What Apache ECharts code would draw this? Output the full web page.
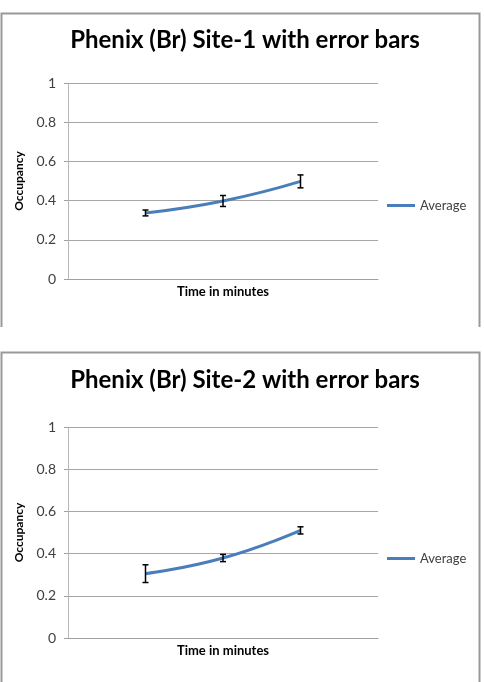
<!DOCTYPE html>
<html>
<head>
<meta charset="utf-8">
<script src="https://cdn.jsdelivr.net/npm/echarts@6/dist/echarts.min.js"></script>
<style>
  html, body { margin: 0; padding: 0; background: #fff; }
  #chart { width: 484px; height: 682px; }
</style>
</head>
<body>
<div id="chart"></div>
<script>
// slots on the x axis: the two outer ones stay empty, like the original sheet
var categories = ['', '1', '2', '3', ''];
var yTicks = [0, 0.2, 0.4, 0.6, 0.8, 1];

var titles = ['Phenix (Br) Site-1 with error bars', 'Phenix (Br) Site-2 with error bars'];

// site 1
var avg1 = ['-', 0.337, 0.398, 0.498, '-'];
var err1 = ['-', 0.015, 0.028, 0.033, '-'];
// site 2
var avg2 = ['-', 0.305, 0.379, 0.510, '-'];
var err2 = ['-', 0.042, 0.017, 0.017, '-'];

var font = 'Lato, "Open Sans", sans-serif';
var lineColor = '#4a7ebb';

function errData(avg, err) {
    var out = [];
    for (var i = 0; i < avg.length; i++) {
        if (avg[i] === '-') continue;
        out.push([i, avg[i] - err[i], avg[i] + err[i]]);
    }
    return out;
}

function renderErr(params, api) {
    var x = api.value(0);
    var lo = api.coord([x, api.value(1)]);
    var hi = api.coord([x, api.value(2)]);
    var cap = 3;
    var st = { stroke: '#000', lineWidth: 1.5 };
    return {
        type: 'group',
        children: [
            { type: 'line', shape: { x1: lo[0], y1: lo[1], x2: hi[0], y2: hi[1] }, style: st },
            { type: 'line', shape: { x1: lo[0] - cap, y1: lo[1], x2: lo[0] + cap, y2: lo[1] }, style: st },
            { type: 'line', shape: { x1: hi[0] - cap, y1: hi[1], x2: hi[0] + cap, y2: hi[1] }, style: st }
        ]
    };
}

// grid positions for the two stacked panels
var grids = [
    { left: 68, top: 83, width: 310, height: 196 },
    { left: 68, top: 427, width: 310, height: 211 }
];

function xAxis(idx) {
    return {
        type: 'category',
        gridIndex: idx,
        data: categories,
        boundaryGap: false,
        name: 'Time in minutes',
        nameLocation: 'middle',
        nameGap: 6,
        nameTextStyle: { fontFamily: font, fontWeight: 'bold', fontSize: 13, color: '#000', verticalAlign: 'top' },
        axisLine: { lineStyle: { color: '#a0a0a0', width: 1 } },
        axisTick: { show: false },
        axisLabel: { show: false },
        splitLine: { show: false }
    };
}

function yAxis(idx) {
    return {
        type: 'value',
        gridIndex: idx,
        min: yTicks[0],
        max: yTicks[yTicks.length - 1],
        interval: 0.2,
        name: 'Occupancy',
        nameLocation: 'middle',
        nameGap: 43,
        nameRotate: 90,
        nameTextStyle: { fontFamily: font, fontWeight: 'bold', fontSize: 12, color: '#000' },
        axisLine: { show: true, lineStyle: { color: '#b8b8b8', width: 1 } },
        axisTick: { show: true, inside: false, length: 4, lineStyle: { color: '#a0a0a0' } },
        axisLabel: { fontFamily: font, fontSize: 14, color: '#404040', margin: 12 },
        splitLine: { lineStyle: { color: '#a6a6a6', width: 1 } }
    };
}

function frame(top, bottom) {
    return {
        type: 'polyline',
        shape: { points: [[1.5, bottom], [1.5, top], [479.5, top], [479.5, bottom]] },
        style: { stroke: '#999', lineWidth: 2, fill: null }
    };
}

function legend(top) {
    return {
        data: [{ name: 'Average', icon: 'rect' }],
        left: 382, top: top, itemWidth: 28, itemHeight: 3,
        textStyle: { fontFamily: font, fontSize: 13, color: '#404040' }
    };
}

var titleStyle = { fontFamily: font, fontWeight: 'bold', fontSize: 24, color: '#000' };

var option = {
    animation: false,
    backgroundColor: '#fff',
    graphic: [frame(13.5, 327), frame(352.5, 682)],
    title: [
        { text: titles[0], left: 240, top: 23, textAlign: 'center', textStyle: titleStyle },
        { text: titles[1], left: 240, top: 363, textAlign: 'center', textStyle: titleStyle }
    ],
    legend: [legend(194), legend(547)],
    grid: grids,
    xAxis: [xAxis(0), xAxis(1)],
    yAxis: [yAxis(0), yAxis(1)],
    series: [
        { name: 'Average', type: 'line', xAxisIndex: 0, yAxisIndex: 0, data: avg1, smooth: true,
          symbol: 'none', lineStyle: { color: lineColor, width: 3 }, itemStyle: { color: lineColor } },
        { type: 'custom', xAxisIndex: 0, yAxisIndex: 0, data: errData(avg1, err1), renderItem: renderErr, z: 5 },
        { name: 'Average', type: 'line', xAxisIndex: 1, yAxisIndex: 1, data: avg2, smooth: true,
          symbol: 'none', lineStyle: { color: lineColor, width: 3 }, itemStyle: { color: lineColor } },
        { type: 'custom', xAxisIndex: 1, yAxisIndex: 1, data: errData(avg2, err2), renderItem: renderErr, z: 5 }
    ]
};

var chart = echarts.init(document.getElementById('chart'));
chart.setOption(option);
</script>
</body>
</html>
